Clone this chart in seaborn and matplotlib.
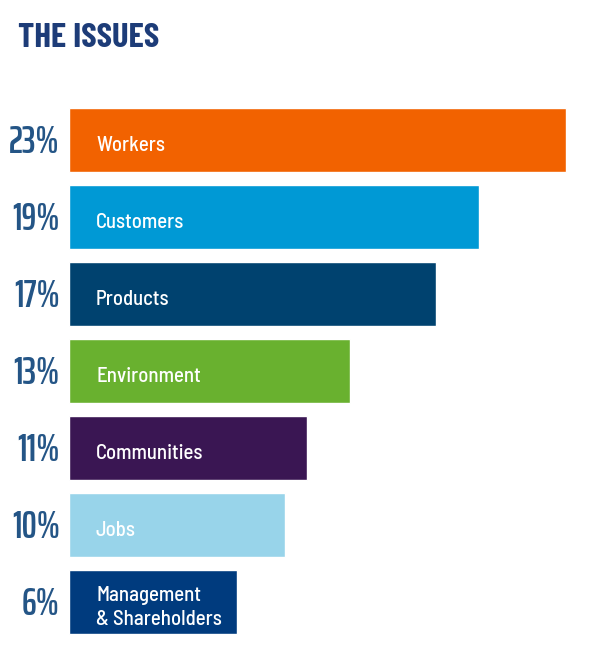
import matplotlib
matplotlib.use('Agg')
import matplotlib.pyplot as plt
import seaborn as sns
import pandas as pd

# данные
categories = ['Workers', 'Customers', 'Products', 'Environment', 'Communities', 'Jobs',
              'Management\n& Shareholders']
pct_labels = ['23%', '19%', '17%', '13%', '11%', '10%', '6%']
# длины полос (в исходнике последняя полоса длиннее, чем 6%)
bar_values = [23, 19, 17, 13, 11, 10, 7.8]
bar_colors = ['#F26200', '#0099D5', '#00426F', '#69B12F', '#3A1653', '#98D4EA', '#003B7E']

df = pd.DataFrame({'issue': categories, 'value': bar_values})

sns.set_theme(style='white')
plt.rcParams['font.family'] = ['Barlow Semi Condensed', 'DejaVu Sans']

W, H = 593, 664
fig = plt.figure(figsize=(W / 100, H / 100), dpi=100)
ax = fig.add_axes([69 / W, 1 - 640.5 / H, (W - 69) / W, 539 / H])

sns.barplot(data=df, x='value', y='issue', hue='issue', palette=bar_colors,
            width=0.83, legend=False, ax=ax, saturation=1)

ax.set_xlim(0, (W - 69) / 21.6)
ax.set_ylim(6.5, -0.5)
ax.axis('off')

for i, (cat, pct) in enumerate(zip(categories, pct_labels)):
    ax.text(1.25, i + 0.07, cat, color='white', fontsize=15, fontweight='medium',
            va='center', ha='left', linespacing=1.3)
    ax.text(-0.42, i + 0.03, pct, color='#245586', fontsize=27, fontweight='semibold',
            family=['Saira ExtraCondensed', 'DejaVu Sans'], va='center', ha='right')

fig.text(18 / W, 1 - 38 / H, 'THE ISSUES', color='#1D3C78', fontsize=25,
         fontweight='bold', family=['Barlow Condensed', 'DejaVu Sans'],
         va='center', ha='left')

fig.savefig('out.png', dpi=100)
